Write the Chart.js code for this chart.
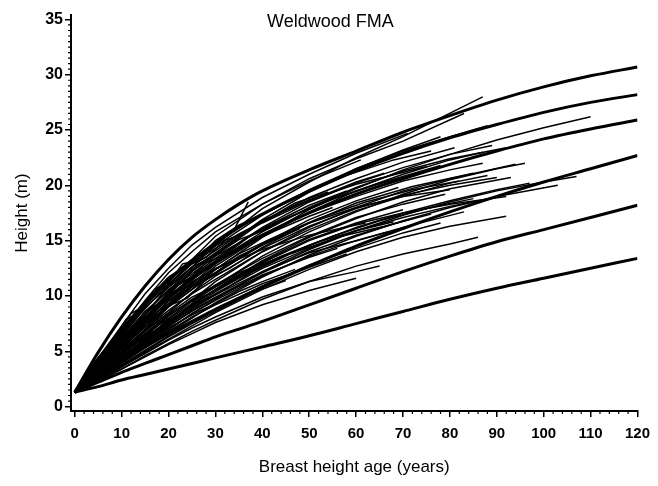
<!DOCTYPE html>
<html>
<head>
<meta charset="utf-8">
<title>Weldwood FMA</title>
<script src="https://cdn.jsdelivr.net/npm/chart.js@4.4.1/dist/chart.umd.min.js"></script>
<style>
  html, body { margin: 0; padding: 0; background: #fff; }
</style>
</head>
<body>
<canvas id="siteChart" width="658" height="486"></canvas>
<script>
// breast height age grid for the site index curves
const siteAges = [0, 5, 10, 15, 20, 25, 30, 35, 40, 50, 60, 70, 80, 90, 100, 110, 120];

// site index curves, tallest to shortest (height in m)
const siteCurve1 = [1.3, 4.9, 8.1, 10.9, 13.3, 15.3, 16.9, 18.3, 19.5, 21.4, 23.1, 24.8, 26.3, 27.7, 28.9, 29.9, 30.7];
const siteCurve2 = [1.3, 4.2, 6.9, 9.3, 11.4, 13.2, 14.8, 16.2, 17.4, 19.5, 21.3, 22.9, 24.3, 25.5, 26.6, 27.5, 28.2];
const siteCurve3 = [1.3, 3.6, 5.8, 7.9, 9.8, 11.5, 13.0, 14.3, 15.5, 17.5, 19.2, 20.6, 21.9, 23.1, 24.2, 25.1, 25.9];
const siteCurve4 = [1.3, 2.7, 4.1, 5.4, 6.6, 7.7, 8.8, 9.8, 10.8, 12.7, 14.5, 16.1, 17.6, 19.0, 20.3, 21.5, 22.7];
const siteCurve5 = [1.3, 2.2, 3.1, 3.9, 4.7, 5.5, 6.3, 7.0, 7.7, 9.2, 10.7, 12.2, 13.6, 14.9, 16.0, 17.1, 18.2];
const siteCurve6 = [1.3, 1.8, 2.4, 2.9, 3.4, 3.9, 4.4, 4.9, 5.4, 6.4, 7.5, 8.6, 9.7, 10.7, 11.6, 12.5, 13.4];
const siteCurves = [siteCurve1, siteCurve2, siteCurve3, siteCurve4, siteCurve5, siteCurve6];

// stem analysis trees: [age, height] pairs
const stems = [
  [[0,1.3],[5,3.6],[10,6.1],[15,8.3],[20,10.9],[25,12.6],[30,14.6],[40,17.9],[50,20.3],[60,22.5],[70,24.4],[78,26.1],[87,28.0]],
  [[0,1.3],[5,3.9],[10,6.7],[15,9.1],[20,11.6],[25,13.3],[30,15.4],[40,18.3],[50,20.6],[60,22.4],[70,24.0],[83,26.5]],
  [[0,1.3],[5,3.4],[10,5.6],[15,8.1],[20,10.1],[25,12.2],[30,13.8],[40,16.9],[50,19.4],[60,21.5],[70,23.1],[80,24.4],[88,25.4]],
  [[0,1.3],[5,3.1],[10,5.3],[15,7.2],[20,9.3],[25,10.9],[30,12.7],[40,15.4],[50,17.8],[60,19.7],[70,21.4],[80,22.8],[90,24.1],[100,25.2],[110,26.2]],
  [[0,1.3],[5,4.4],[10,7.3],[15,10.2],[20,12.5],[25,14.6],[30,16.2],[40,18.9],[50,21.0],[60,22.9],[71,24.7]],
  [[0,1.3],[5,4.0],[10,6.9],[15,9.6],[20,12.1],[25,14.0],[30,15.8],[40,18.3],[50,20.4],[61,22.3]],
  [[0,1.3],[5,3.5],[10,5.8],[15,8.3],[20,10.2],[25,12.3],[30,13.7],[40,16.7],[50,18.9],[60,20.6],[70,22.1],[81,23.4]],
  [[0,1.3],[5,3.1],[10,5.2],[15,6.9],[20,9.0],[25,10.6],[30,12.4],[40,15.3],[50,17.6],[60,19.5],[70,21.0],[80,22.3],[87,23.0]],
  [[0,1.3],[5,3.3],[10,5.5],[15,7.4],[20,9.6],[25,11.1],[30,12.9],[40,15.5],[50,17.5],[60,19.0],[70,20.4],[80,21.4],[87,22.0]],
  [[0,1.3],[5,2.9],[10,4.7],[15,6.3],[20,8.2],[25,9.6],[30,11.3],[40,14.0],[50,16.2],[60,18.0],[70,19.5],[80,20.6],[94,21.9]],
  [[0,1.3],[5,3.0],[10,4.9],[15,6.9],[20,8.5],[25,10.3],[30,11.8],[40,14.3],[50,16.3],[60,17.9],[70,19.1],[80,20.0],[90,20.7]],
  [[0,1.3],[5,2.7],[10,4.3],[15,6.0],[20,7.6],[25,9.1],[30,10.6],[40,13.2],[50,15.3],[60,17.0],[70,18.5],[80,19.7],[93,20.7]],
  [[0,1.3],[5,2.6],[10,4.0],[15,5.5],[20,6.9],[25,8.4],[30,9.7],[40,12.2],[50,14.2],[60,15.9],[70,17.3],[80,18.5],[90,19.5],[100,20.3],[107,20.8]],
  [[0,1.3],[5,2.5],[10,3.9],[15,5.3],[20,6.7],[25,8.0],[30,9.4],[40,11.7],[50,13.7],[60,15.4],[70,16.8],[80,18.0],[90,19.0],[103,20.0]],
  [[0,1.3],[5,2.8],[10,4.4],[15,6.1],[20,7.7],[25,9.2],[30,10.6],[40,13.0],[50,15.0],[60,16.5],[70,17.5],[80,18.3],[92,19.0]],
  [[0,1.3],[5,2.6],[10,4.1],[15,5.6],[20,7.0],[25,8.4],[30,9.6],[40,11.8],[50,13.6],[60,15.0],[70,16.2],[83,17.6]],
  [[0,1.3],[5,2.4],[10,3.6],[15,4.9],[20,6.1],[25,7.3],[30,8.5],[40,10.6],[50,12.4],[60,14.0],[70,15.3],[80,16.3],[92,17.2]],
  [[0,1.3],[5,2.3],[10,3.4],[15,4.6],[20,5.7],[25,6.8],[30,7.8],[40,9.7],[50,11.3],[60,12.7],[70,13.8],[80,14.7],[86,15.3]],
  [[0,1.3],[5,2.7],[10,4.3],[15,5.9],[20,7.4],[25,8.8],[30,10.1],[40,12.2],[50,13.9],[60,15.0],[67,15.8]],
  [[0,1.3],[5,2.4],[10,3.6],[15,4.8],[20,6.0],[25,7.1],[30,8.1],[40,9.9],[50,11.3],[60,12.2],[65,12.7]],
  [[0,1.3],[5,2.3],[10,3.4],[15,4.5],[20,5.6],[25,6.6],[30,7.6],[40,9.2],[50,10.5],[60,11.6]],
  [[0,1.3],[5,4.2],[10,7.1],[15,9.5],[20,11.7],[25,13.1],[30,14.6],[34,16.0],[37,18.5]],
  [[0,1.3],[5,3.9],[10,6.4],[15,9.0],[20,10.8],[25,12.6],[30,13.7],[35,15.1],[40,15.9],[45,17.0]],
  [[0,1.3],[5,3.0],[10,4.9],[15,6.8],[20,8.4],[25,9.9],[30,10.9],[35,12.1],[40,12.9],[50,14.5]],
  [[0,1.3],[5,3.5],[10,5.8],[15,8.1],[20,10.0],[25,11.7],[30,13.0],[40,15.4],[50,17.2],[55,18.0]],
  [[0,1.3],[5,3.7],[10,6.2],[15,8.6],[20,10.5],[25,12.4],[30,13.9],[40,16.8],[50,18.7],[60,20.1],[75,21.7]],
  [[0,1.3],[5,3.2],[10,5.2],[15,7.4],[20,9.1],[25,10.8],[30,12.1],[40,14.6],[50,16.6],[60,18.0],[70,19.0],[80,19.6]],
  [[0,1.3],[5,2.9],[10,4.6],[15,6.5],[20,8.0],[25,9.5],[30,10.8],[40,13.1],[50,15.1],[60,16.6],[70,17.8]],
  [[0,1.3],[5,3.3],[10,5.6],[15,7.7],[20,9.8],[25,11.2],[30,12.5],[40,14.2],[50,15.5],[62,16.6]],
  [[0,1.3],[5,2.6],[10,4.0],[15,5.5],[20,6.8],[25,8.1],[30,9.2],[40,11.1],[50,12.6],[58,13.8]],
  [[0,1.3],[4,3.6],[8,5.8],[12,8.4],[14,8.9],[17,10.6],[20,11.2],[23,12.9],[26,13.2],[30,15.0],[35,16.4],[40,17.4],[48,19.0],[58,20.9],[68,22.3],[76,23.1]],
  [[0,1.3],[4,3.3],[8,5.4],[12,7.0],[15,8.6],[18,9.3],[21,10.8],[24,11.4],[28,13.0],[32,13.7],[38,15.6],[45,17.0],[55,18.8],[65,20.2],[78,21.8]],
  [[0,1.3],[5,3.3],[10,5.0],[13,6.9],[16,7.4],[20,9.1],[24,9.8],[28,11.5],[33,12.5],[40,14.4],[50,16.6],[60,18.4],[72,19.9],[85,21.1]],
  [[0,1.3],[5,3.5],[9,5.9],[12,6.6],[16,8.9],[19,9.4],[22,11.0],[26,12.0],[30,13.2],[36,15.1],[44,16.8],[54,18.6],[64,20.0],[74,21.2]],
  [[0,1.3],[5,2.8],[10,4.8],[14,6.0],[18,7.5],[22,8.1],[26,9.7],[30,10.5],[36,12.0],[44,13.6],[52,14.9],[60,15.9],[68,16.7]],
  [[0,1.3],[5,3.0],[10,4.6],[15,6.4],[20,7.5],[25,9.2],[30,10.1],[38,12.2],[46,13.8],[56,15.3],[66,16.3],[76,17.4]],
  [[0,1.3],[5,2.5],[10,3.8],[15,5.1],[20,6.4],[25,7.6],[30,8.8],[40,10.9],[50,12.8],[60,14.3],[70,15.7],[78,16.6]],
  [[0,1.3],[5,3.8],[10,6.3],[14,8.4],[18,10.2],[22,11.4],[26,13.0],[30,14.1],[35,15.5],[40,16.6],[50,18.6],[60,20.3],[66,21.1]],
  [[0,1.3],[5,3.4],[10,5.3],[15,7.7],[20,9.3],[25,11.3],[30,12.4],[35,13.8],[42,15.2],[52,17.0],[62,18.5],[72,19.6],[82,20.4]],
  [[0,1.3],[5,2.9],[10,4.4],[15,6.2],[20,7.8],[25,9.0],[30,10.4],[35,11.6],[45,13.7],[55,15.4],[65,16.8],[75,17.9],[85,18.8]],
  [[0,1.3],[5,2.7],[10,4.2],[15,5.8],[20,7.2],[25,8.7],[30,9.9],[40,12.1],[50,14.0],[60,15.5],[72,17.0]],
  [[0,1.3],[5,3.1],[10,5.0],[15,7.0],[20,8.7],[25,10.2],[30,11.5],[40,14.0],[50,16.0],[60,17.7],[70,19.0],[80,20.2],[88,20.9]],
  [[0,1.3],[5,3.6],[10,6.0],[15,8.0],[20,10.4],[25,11.8],[30,13.4],[40,16.2],[50,18.5],[60,20.2],[70,21.6],[80,22.8],[89,23.6]],
  [[0,1.3],[5,4.1],[10,6.6],[15,9.2],[20,11.1],[25,13.0],[30,14.3],[35,15.6],[40,16.7],[47,18.4],[54,19.4]],
  [[0,1.3],[5,3.2],[10,5.4],[15,7.5],[20,9.1],[25,11.0],[30,12.1],[35,13.6],[40,14.6],[48,16.1]],
  [[0,1.3],[5,2.4],[10,3.7],[15,5.0],[20,6.3],[25,7.5],[30,8.6],[38,10.3],[45,11.4]],
  [[0,1.3],[5,2.9],[10,4.5],[15,6.1],[20,7.9],[25,9.3],[30,10.5],[40,12.8],[50,14.6],[60,16.2],[70,17.5],[80,18.6],[90,19.6],[97,20.2]],
  [[0,1.3],[5,3.4],[10,5.7],[15,7.9],[20,9.9],[25,11.6],[30,13.1],[40,15.8],[50,18.0],[60,19.8],[70,21.3],[80,22.4],[92,23.4]],
  [[0,1.3],[5,3.7],[10,6.0],[15,8.4],[20,10.6],[25,12.0],[30,13.6],[35,14.8],[40,16.1],[50,18.2],[58,19.5]],
  [[0,1.3],[5,3.0],[10,4.8],[15,6.6],[20,8.2],[25,9.7],[30,11.0],[40,13.4],[50,15.4],[60,17.1],[70,18.3],[79,19.2]],
  [[0,1.3],[5,2.8],[10,4.3],[15,5.9],[20,7.3],[25,8.6],[30,9.8],[40,11.9],[50,13.5],[56,14.3]],
  [[0,1.3],[5,3.3],[10,5.3],[15,7.2],[20,9.0],[25,10.6],[30,12.0],[40,14.7],[50,16.9],[60,18.6],[69,19.8]],
  [[0,1.3],[5,2.6],[10,4.2],[15,5.7],[20,7.1],[25,8.3],[30,9.3],[35,10.4],[40,11.3],[47,12.4]],
  [[0,1.3],[5,3.9],[10,6.5],[15,8.9],[20,11.0],[25,12.9],[30,14.5],[40,17.3],[50,19.6],[60,21.5],[70,23.2],[78,24.4]],
  [[0,1.3],[5,3.6],[10,5.7],[15,7.6],[20,9.5],[25,10.9],[30,12.4],[35,13.5],[40,14.7],[46,15.8]],
  [[0,1.3],[5,2.9],[10,4.5],[15,6.0],[20,7.5],[25,8.9],[30,10.2],[40,12.5],[50,14.3],[60,15.9],[70,17.1],[80,18.1],[86,18.6]],
  [[0,1.3],[4,3.9],[8,6.0],[11,7.9],[14,8.5],[17,10.4],[20,11.0],[24,12.7],[28,13.5],[32,15.0],[36,15.7],[40,16.9],[44,17.4]],
  [[0,1.3],[5,3.1],[10,4.9],[15,6.6],[20,8.3],[25,9.6],[30,10.9],[40,13.6],[50,15.8],[60,17.6],[70,19.2],[80,20.5],[90,21.5],[96,22.0]]
];

const xTicks = [0, 10, 20, 30, 40, 50, 60, 70, 80, 90, 100, 110, 120];
const yTicks = [0, 5, 10, 15, 20, 25, 30, 35];

const datasets = [];
stems.forEach(tree => {
  datasets.push({
    data: tree.map(p => ({ x: p[0], y: p[1] })),
    showLine: true,
    borderColor: '#000',
    borderWidth: 1.5,
    pointRadius: 0,
    tension: 0
  });
});
siteCurves.forEach(curve => {
  datasets.push({
    data: siteAges.map((a, i) => ({ x: a, y: curve[i] })),
    showLine: true,
    borderColor: '#000',
    borderWidth: 3,
    pointRadius: 0,
    cubicInterpolationMode: 'monotone'
  });
});

// white page, the title inside the frame and the small in-between ticks
const decorations = {
  id: 'decorations',
  beforeDraw(chart) {
    const c = chart.ctx;
    c.save();
    c.fillStyle = '#fff';
    c.fillRect(0, 0, chart.width, chart.height);
    c.restore();
  },
  afterDraw(chart) {
    const c = chart.ctx;
    const xs = chart.scales.x, ys = chart.scales.y;
    const area = chart.chartArea;
    c.save();
    c.strokeStyle = '#000';
    c.lineWidth = 1.2;
    c.beginPath();
    for (let a = 2; a < 120; a += 2) {
      if (a % 10 === 0) continue;
      const px = xs.getPixelForValue(a);
      c.moveTo(px, area.bottom);
      c.lineTo(px, area.bottom + 3);
    }
    for (let h = 0.5; h < 35.4; h += 0.5) {
      if (h % 5 === 0) continue;
      const py = ys.getPixelForValue(h);
      c.moveTo(area.left - 3, py);
      c.lineTo(area.left, py);
    }
    c.stroke();
    c.fillStyle = '#000';
    c.font = '18px "Liberation Sans", Arial, sans-serif';
    c.textAlign = 'center';
    c.textBaseline = 'middle';
    c.fillText('Weldwood FMA', xs.getPixelForValue(54.5), 22);
    c.restore();
  }
};

const ctx = document.getElementById('siteChart').getContext('2d');
new Chart(ctx, {
  type: 'scatter',
  data: { datasets: datasets },
  options: {
    responsive: false,
    animation: false,
    layout: { padding: { top: 15, right: 8, left: 0, bottom: 0 } },
    plugins: {
      legend: { display: false },
      tooltip: { enabled: false }
    },
    scales: {
      x: {
        type: 'linear',
        min: -0.8,
        max: 120,
        afterBuildTicks: scale => { scale.ticks = xTicks.map(v => ({ value: v })); },
        afterFit: scale => { scale.height = 75; },
        border: { display: true, color: '#000', width: 2 },
        grid: { drawOnChartArea: false, color: '#000', lineWidth: 1.5, tickLength: 6 },
        ticks: {
          color: '#000',
          padding: 8,
          maxRotation: 0,
          autoSkip: false,
          font: { family: '"Liberation Sans", Arial, sans-serif', size: 15, weight: 'bold' }
        },
        title: {
          display: true,
          text: 'Breast height age (years)',
          color: '#000',
          font: { family: '"Liberation Sans", Arial, sans-serif', size: 17 },
          padding: { top: 0, bottom: 8 }
        }
      },
      y: {
        type: 'linear',
        min: -0.4,
        max: 35.4,
        afterBuildTicks: scale => { scale.ticks = yTicks.map(v => ({ value: v })); },
        afterFit: scale => { scale.width = 71; },
        border: { display: true, color: '#000', width: 2 },
        grid: { drawOnChartArea: false, color: '#000', lineWidth: 1.5, tickLength: 6 },
        ticks: {
          color: '#000',
          padding: 2,
          font: { family: '"Liberation Sans", Arial, sans-serif', size: 16, weight: 'bold' }
        },
        title: {
          display: true,
          text: 'Height (m)',
          color: '#000',
          font: { family: '"Liberation Sans", Arial, sans-serif', size: 17 },
          padding: { top: 12, bottom: 0 }
        }
      }
    }
  },
  plugins: [decorations]
});
</script>
</body>
</html>
